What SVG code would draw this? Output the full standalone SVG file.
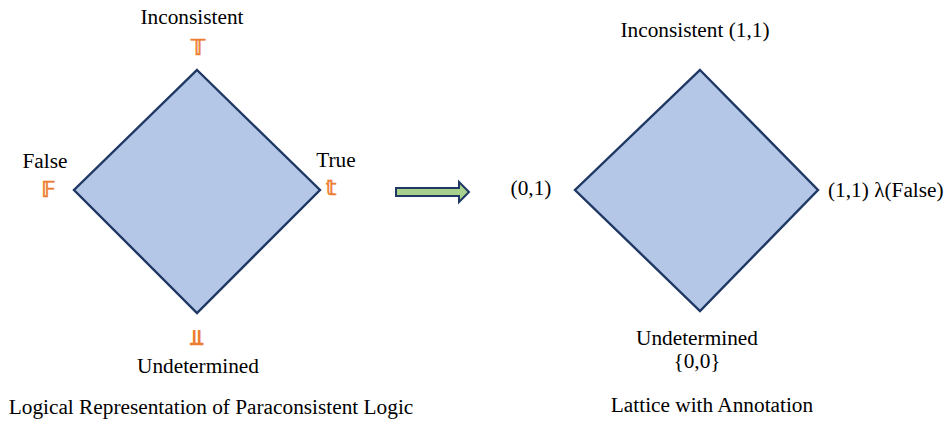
<svg xmlns="http://www.w3.org/2000/svg" width="946" height="428" viewBox="0 0 946 428">
<style>
.t{font-family:"Liberation Serif","Times New Roman",serif;font-size:21.3px;fill:#000}
.s{font-family:"DejaVu Sans","Noto Sans",sans-serif;font-size:21px;font-weight:bold;fill:#ED7D31;stroke:#ED7D31;stroke-width:0.6}
.d{fill:#B4C7E7;stroke:#1F3864;stroke-width:2.4}
</style>
<rect width="946" height="428" fill="#fff"/>
<g id="left-lattice">
<polygon class="d" points="197,70 320,190 197,313 74,190"/>
<text class="t" x="192" y="24" text-anchor="middle">Inconsistent</text>
<text class="s" x="198" y="55" text-anchor="middle">𝕋</text>
<text class="t" x="45" y="168" text-anchor="middle">False</text>
<text class="s" x="49" y="197" text-anchor="middle">𝔽</text>
<text class="t" x="336" y="167" text-anchor="middle">True</text>
<text class="s" x="331" y="195" text-anchor="middle">𝕥</text>
<text class="s" x="197" y="345" text-anchor="middle">⫫</text>
<text class="t" x="198" y="373" text-anchor="middle">Undetermined</text>
<text class="t" x="211" y="414" text-anchor="middle">Logical Representation of Paraconsistent Logic</text>
</g>
<g id="connectors">
<polygon points="396,188 459,188 459,182 469,192 459,202 459,196 396,196" fill="#A9D18E" stroke="#1F3864" stroke-width="2"/>
</g>
<g id="right-lattice">
<polygon class="d" points="700,70 818,190 700,311 575,190"/>
<text class="t" x="695" y="37" text-anchor="middle">Inconsistent (1,1)</text>
<text class="t" x="531" y="195" text-anchor="middle">(0,1)</text>
<text class="t" x="828" y="197">(1,1) λ(False)</text>
<text class="t" x="697" y="345" text-anchor="middle">Undetermined</text>
<text class="t" x="697" y="368" text-anchor="middle">{0,0}</text>
<text class="t" x="712" y="412" text-anchor="middle">Lattice with Annotation</text>
</g>
</svg>
